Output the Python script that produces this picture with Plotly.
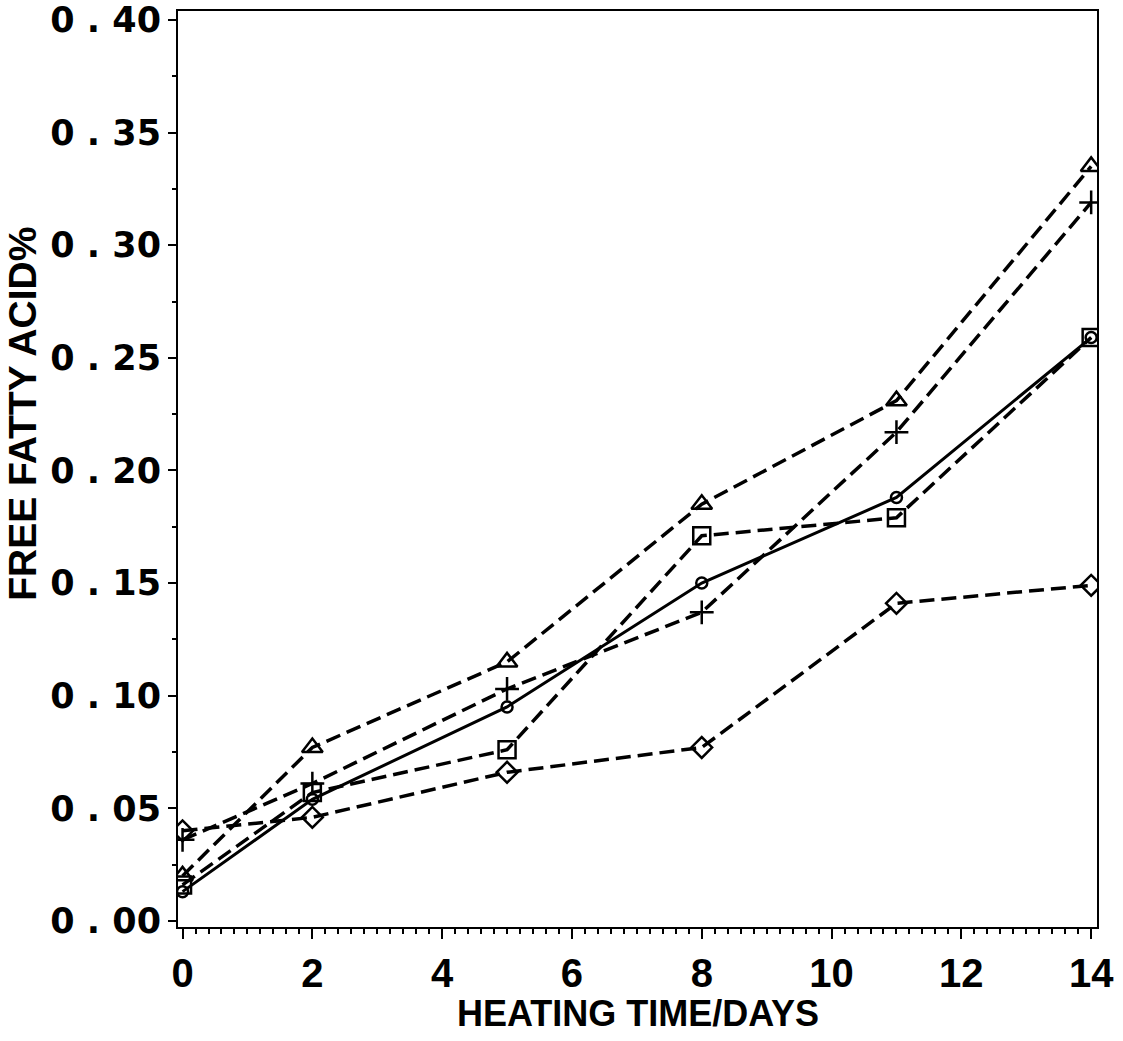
import plotly.graph_objects as go

days = [0, 2, 5, 8, 11, 14]

triangle_vals = [0.020, 0.077, 0.115, 0.185, 0.231, 0.335]
plus_vals = [0.036, 0.061, 0.103, 0.137, 0.217, 0.319]
circle_vals = [0.013, 0.054, 0.095, 0.150, 0.188, 0.259]
square_vals = [0.016, 0.057, 0.076, 0.171, 0.179, 0.259]
diamond_vals = [0.040, 0.046, 0.066, 0.077, 0.141, 0.149]

y_tickvals = [0.00, 0.05, 0.10, 0.15, 0.20, 0.25, 0.30, 0.35, 0.40]
y_ticktext = ["0 . 00", "0 . 05", "0 . 10", "0 . 15", "0 . 20", "0 . 25", "0 . 30", "0 . 35", "0 . 40"]
x_tickvals = [0, 2, 4, 6, 8, 10, 12, 14]

x_title = "HEATING TIME/DAYS"
y_title = "FREE FATTY ACID%"

series = [
    ("triangle", triangle_vals, "triangle-up-open", 18, "15px,7px"),
    ("plus", plus_vals, "cross-thin-open", 17, "15px,7px"),
    ("circle", circle_vals, "circle-open", 11, "solid"),
    ("square", square_vals, "square-open", 17, "15px,7px"),
    ("diamond", diamond_vals, "diamond-open", 16, "15px,7px"),
]

fig = go.Figure()
for name, vals, sym, size, dash in series:
    fig.add_trace(go.Scatter(
        x=days, y=vals, name=name, mode="lines+markers",
        line=dict(color="black", width=3.5 if dash != "solid" else 3, dash=dash),
        marker=dict(symbol=sym, size=size, color="black",
                    line=dict(color="black", width=2.5)),
        showlegend=False,
    ))

sans = "Liberation Sans, Arial"

fig.update_layout(
    width=1123, height=1041,
    margin=dict(l=178, r=26, t=11, b=114, autoexpand=False),
    paper_bgcolor="white", plot_bgcolor="white",
    showlegend=False,
)
fig.update_xaxes(
    range=[-0.07, 14.09],
    tickvals=x_tickvals,
    ticktext=[str(v) for v in x_tickvals],
    ticks="outside", ticklen=10, tickwidth=2, tickcolor="black",
    minor=dict(dtick=0.2, tick0=0, ticks="outside", ticklen=5, tickwidth=1.5, tickcolor="black", showgrid=False),
    showline=True, linecolor="black", linewidth=2, mirror=True,
    showgrid=False, zeroline=False, automargin=False,
    tickfont=dict(family=sans, size=40, color="black", weight="bold"),
)
fig.update_yaxes(
    range=[-0.0027, 0.404],
    tickvals=y_tickvals, ticktext=y_ticktext,
    ticks="outside", ticklen=8, tickwidth=2, tickcolor="black",
    minor=dict(dtick=0.025, tick0=0, ticks="outside", ticklen=4, tickwidth=1.5, tickcolor="black", showgrid=False),
    showline=True, linecolor="black", linewidth=2, mirror=True,
    showgrid=False, zeroline=False, automargin=False,
    tickfont=dict(family="DejaVu Sans", size=35, color="black", weight="bold"),
)

fig.add_annotation(
    text=x_title, xref="paper", yref="paper", x=0.5, y=-0.094,
    xanchor="center", yanchor="middle", showarrow=False,
    font=dict(family=sans, size=36, color="black", weight="bold"),
)
fig.add_annotation(
    text=y_title, xref="paper", yref="paper", x=-0.17, y=0.56,
    xanchor="center", yanchor="middle", showarrow=False, textangle=-90,
    font=dict(family=sans, size=39, color="black", weight="bold"),
)

fig.write_html("out.html")
